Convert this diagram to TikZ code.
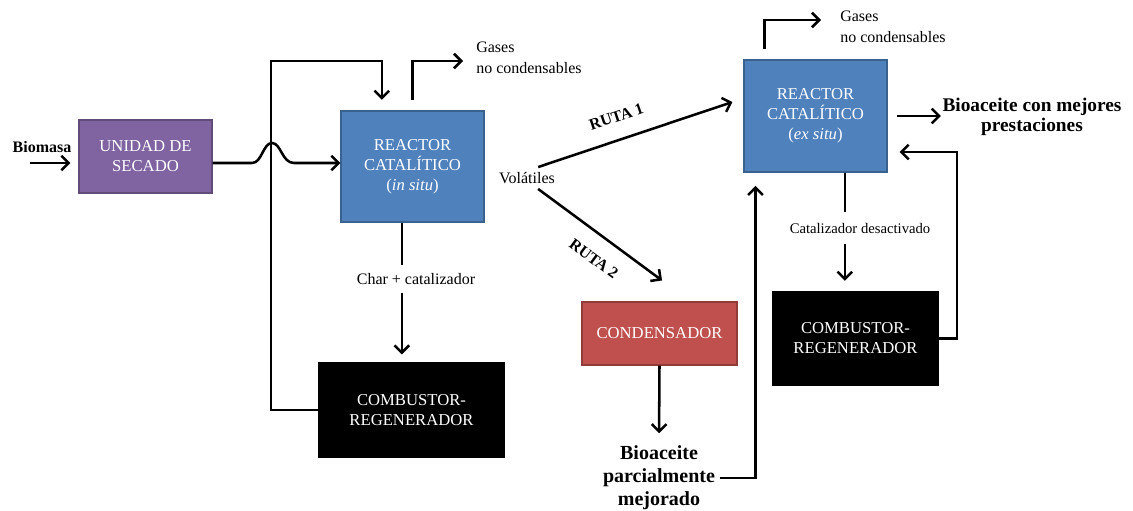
\documentclass[tikz,border=0pt]{standalone}
\usepackage{fontspec}
\setmainfont{Liberation Serif}
\usetikzlibrary{arrows.meta}

\definecolor{secadofill}{HTML}{8064A2}
\definecolor{reactfill}{HTML}{4F81BD}
\definecolor{condfill}{HTML}{C0504D}

\tikzset{
  unit/.style={draw=#1!75!black, line width=0.8pt, fill=#1, text=white, align=center,
               font=\fontsize{12.5}{15}\selectfont, inner sep=0pt},
  wire/.style={line width=1.9pt},
  flow/.style={wire, -{Straight Barb[length=5.5pt,width=11pt]}},
  tag/.style={font=\fontsize{12}{15.5}\selectfont, inner sep=0pt},
  strong/.style={font=\bfseries\fontsize{15}{17.25}\selectfont, align=center},
  route/.style={font=\bfseries\fontsize{12}{13}\selectfont, sloped}
}

\begin{document}
\begin{tikzpicture}[x=0.75pt,y=-0.75pt]
    \useasboundingbox (0,0) rectangle (1133,511);

    %%%% Pirolisis catalitica in situ %%%%%%%%%%%%%%%%%%%%%%%%%%%%%%%%%%%%%
    \node[unit=secadofill, minimum width=99.75pt, minimum height=54.75pt] (secado) at (145.5,156.5) {UNIDAD DE\\SECADO};
    \node[unit=reactfill, minimum width=107.25pt, minimum height=83.25pt] (insitu) at (412.5,166.5) {REACTOR\\CATALÍTICO\\(\textit{in situ})};
    \node[unit=black, minimum width=138.75pt, minimum height=70.5pt] (combA) at (411.5,410) {COMBUSTOR-\\REGENERADOR};

    \node[font=\bfseries\fontsize{12}{14}\selectfont] (biomasa) at (42,147) {Biomasa};
    \node[tag, anchor=west, align=left] (gasesA) at (476,57.5) {Gases\\no condensables};
    \node[tag] (volatiles) at (527,178) {Volátiles};
    \node[tag, inner ysep=6pt] (char) at (416,279) {Char + catalizador};

    \coordinate (bioin) at (30,163);
    \coordinate (loopL) at (271,61);
    \coordinate (gasAend) at (463,61);
    \coordinate (chardrop) at ([xshift=-8pt]insitu.south);

    \draw[flow, shorten >=6pt] (bioin) -- (bioin -| secado.west);
    \draw[flow] (secado.east |- bioin) -- (252,163)
       .. controls (262,163) and (263,143) .. (272,143)
       .. controls (281,143) and (282,163) .. (294,163)
       -- (insitu.west |- bioin);
    \draw[flow, shorten >=8pt] (combA.west) -| (loopL) -| ([xshift=-23pt]insitu.north);
    \draw[flow, shorten <=8pt] (insitu.north) |- (gasAend);
    \draw[wire] (chardrop) -- (chardrop |- char.north);
    \draw[flow, shorten >=6pt] (chardrop |- char.south) -- (chardrop |- combA.north);

    %%%% Reactor ex situ %%%%%%%%%%%%%%%%%%%%%%%%%%%%%%%%%%%%%%%%%%%%%%%%%%
    \node[unit=reactfill, minimum width=107.25pt, minimum height=84pt] (exsitu) at (815.5,116) {REACTOR\\CATALÍTICO\\(\textit{ex situ})};
    \node[unit=black, minimum width=123.75pt, minimum height=69.75pt] (combB) at (855.5,338.5) {COMBUSTOR-\\REGENERADOR};
    \node[unit=condfill, minimum width=116.25pt, minimum height=47.25pt] (cond) at (659.5,333.5) {CONDENSADOR};

    \node[strong] (bioparc) at (659,478) {Bioaceite\\parcialmente\\mejorado};
    \node[tag, anchor=west, align=left] (gasesB) at (840,27) {Gases\\no condensables};
    \node[font=\bfseries\fontsize{14.5}{14.5}\selectfont, align=center, inner sep=1pt] (bioprest) at (1032,117) {Bioaceite con mejores\\prestaciones};
    \node[tag, font=\fontsize{11}{13}\selectfont, inner ysep=8pt] (catdes) at (860,228) {Catalizador desactivado};

    \coordinate (gasBend) at (821,20);
    \coordinate (retR) at (957,152);
    \coordinate (catdrop) at ([xshift=22pt]exsitu.south);

    %%%% Rutas %%%%%%%%%%%%%%%%%%%%%%%%%%%%%%%%%%%%%%%%%%%%%%%%%%%%%%%%%%%%
    \draw[flow] ([shift={(-12.75pt,3.75pt)}]volatiles.north east) -- ([shift={(-8.25pt,10.5pt)}]exsitu.west)
       node[route, pos=0.44, above=9pt] (rutaA) {RUTA 1};
    \draw[flow] ([shift={(-12.75pt,-3.75pt)}]volatiles.south east) -- ([shift={(1.9pt,15.75pt)}]cond.north)
       node[route, pos=0.56, below=9pt] (rutaB) {RUTA 2};
    \draw[flow, shorten >=6pt] (cond.south) -- (bioparc.north);

    \draw[flow] (bioparc.east) -| ([shift={(9pt,-10pt)}]exsitu.south west);
    \draw[flow, shorten <=7.5pt] ([xshift=15.75pt]exsitu.north west) |- (gasBend);
    \draw[flow, shorten <=7pt] (exsitu.east) -- (exsitu.east -| bioprest.west);
    \draw[wire] (catdrop) -- (catdrop |- catdes.north);
    \draw[flow, shorten >=8pt] (catdrop |- catdes.south) -- (catdrop |- combB.north);
    \draw[flow, shorten >=9pt] (combB.east) -| (retR) -- (retR -| exsitu.east);
\end{tikzpicture}
\end{document}
